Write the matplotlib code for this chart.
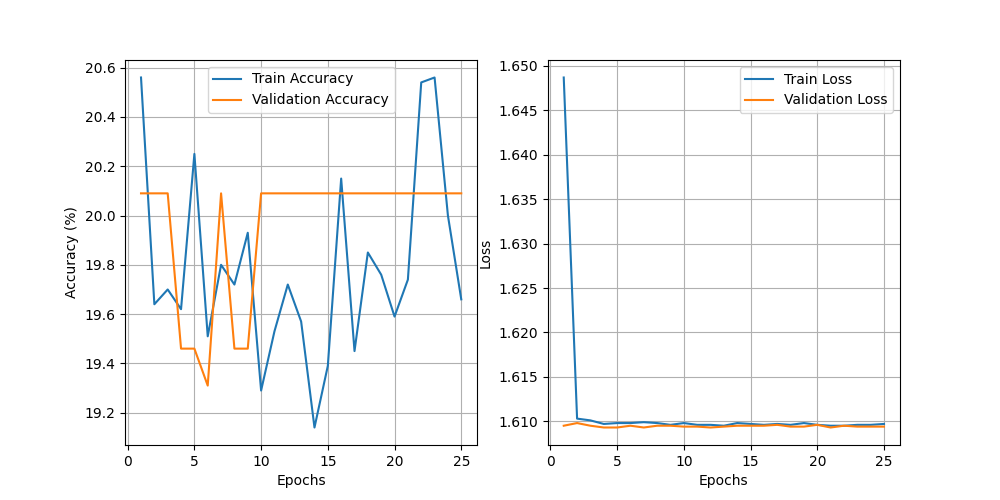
import matplotlib
matplotlib.use("Agg")
import matplotlib.pyplot as plt

epochs = list(range(1, 26))
train_acc = [20.56, 19.64, 19.70, 19.62, 20.25, 19.51, 19.80, 19.72, 19.93, 19.29,
             19.53, 19.72, 19.57, 19.14, 19.39, 20.15, 19.45, 19.85, 19.76, 19.59,
             19.74, 20.54, 20.56, 20.00, 19.66]
val_acc = [20.09, 20.09, 20.09, 19.46, 19.46, 19.31, 20.09, 19.46, 19.46, 20.09,
           20.09, 20.09, 20.09, 20.09, 20.09, 20.09, 20.09, 20.09, 20.09, 20.09,
           20.09, 20.09, 20.09, 20.09, 20.09]
train_loss = [1.6487, 1.6103, 1.6101, 1.6097, 1.6098, 1.6098, 1.6099, 1.6098, 1.6096, 1.6098,
              1.6096, 1.6096, 1.6095, 1.6098, 1.6097, 1.6096, 1.6097, 1.6096, 1.6098, 1.6096,
              1.6095, 1.6095, 1.6096, 1.6096, 1.6097]
val_loss = [1.6095, 1.6098, 1.6095, 1.6093, 1.6093, 1.6095, 1.6093, 1.6095, 1.6095, 1.6094,
            1.6094, 1.6093, 1.6094, 1.6095, 1.6095, 1.6095, 1.6096, 1.6094, 1.6094, 1.6096,
            1.6093, 1.6095, 1.6094, 1.6094, 1.6094]

fig, (ax1, ax2) = plt.subplots(1, 2, figsize=(10, 5))

ax1.plot(epochs, train_acc, label="Train Accuracy")
ax1.plot(epochs, val_acc, label="Validation Accuracy")
ax1.set_xlabel("Epochs")
ax1.set_ylabel("Accuracy (%)")
ax1.legend(loc="upper center")
ax1.grid(True)

ax2.plot(epochs, train_loss, label="Train Loss")
ax2.plot(epochs, val_loss, label="Validation Loss")
ax2.set_xlabel("Epochs")
ax2.set_ylabel("Loss")
ax2.legend(loc="upper right")
ax2.grid(True)

fig.savefig("out.png", dpi=100)
